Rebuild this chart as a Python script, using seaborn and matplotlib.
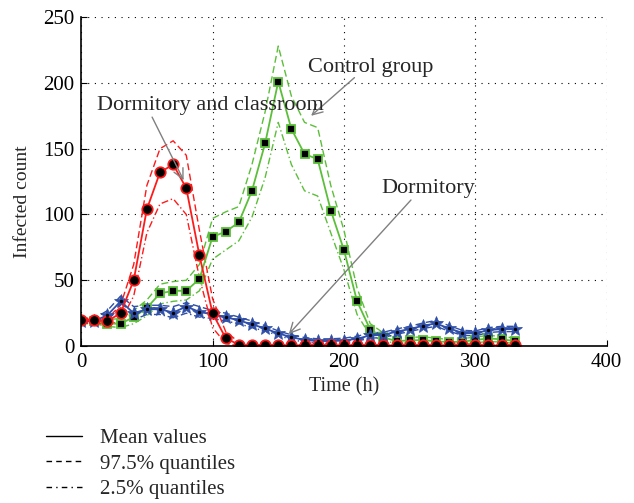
import numpy as np
import pandas as pd
import seaborn as sns
import matplotlib
matplotlib.use("Agg")
import matplotlib.pyplot as plt
from matplotlib.lines import Line2D

# ---------------- data ----------------
time_h = [0, 10, 20, 30, 40, 50, 60, 70, 80, 90, 100, 110, 120, 130, 140, 150, 160,
          170, 180, 190, 200, 210, 220, 230, 240, 250, 260, 270, 280, 290, 300, 310, 320, 330]

red_mean = [20, 20, 19, 25, 50, 104, 132, 138, 120, 69, 25, 6, 1, 0.5, 0.5, 0.5, 0.5,
            0.5, 0.5, 0.5, 0.5, 0.5, 0.5, 0.5, 0.5, 0.5, 0.5, 0.5, 0.5, 0.5, 0.5, 0.5, 0.5, 0.5]
red_hi = [21, 21, 21, 31, 62, 122, 150, 156, 145, 88, 36, 11, 3, 1, 1, 1, 1,
          1, 1, 1, 1, 1, 1, 1, 1, 1, 1, 1, 1, 1, 1, 1, 1, 1]
red_lo = [18, 18, 16, 19, 38, 86, 108, 112, 100, 52, 14, 2, 0, 0, 0, 0, 0,
          0, 0, 0, 0, 0, 0, 0, 0, 0, 0, 0, 0, 0, 0, 0, 0, 0]

green_mean = [19, 19, 17, 17, 22, 29, 40, 42, 42, 51, 83, 87, 94, 118, 154, 201, 165,
              146, 142, 103, 73, 34, 12.5, 6.6, 3.8, 4.3, 4.6, 3.6, 3.0, 3.3, 4.6, 5.8, 5.1, 3.8]
green_hi = [21, 21, 20, 21, 27, 35, 47, 49, 50, 62, 97, 102, 106, 138, 178, 228, 190,
            170, 166, 122, 88, 44, 17, 10, 6, 6.5, 7, 6, 5, 5.5, 7, 8, 7.5, 6]
green_lo = [17, 17, 15, 14, 17, 23, 32, 34, 35, 42, 66, 73, 80, 98, 128, 170, 138,
            118, 114, 86, 58, 24, 8, 4, 2, 2.5, 2.5, 2, 1.5, 1.5, 2.5, 3.5, 3, 2]

blue_mean = [19, 19, 23.5, 34, 25, 28, 28, 25.5, 30, 26, 24, 22, 19.5, 16.5, 13.4, 9.6, 6.8,
             4.6, 3.8, 3.8, 4.2, 5.6, 8.1, 8.5, 11, 12.9, 15.4, 17.2, 13.4, 10.1, 9.6, 12.2, 12.9, 12.9]
blue_hi = [21, 21, 27, 38, 30, 31, 31, 30, 33, 30, 27, 25, 22, 19, 15.5, 11.5, 8.5,
           6.5, 5.5, 5.5, 6, 7.5, 10, 10.5, 13, 15, 17.5, 19.5, 15.5, 12, 11.5, 14, 15, 15]
blue_lo = [17.5, 17.5, 20, 29, 20, 24, 24, 21.5, 25, 22, 21, 19, 17, 14, 11.5, 8, 5,
           3, 2.2, 2, 2.5, 3.8, 6, 6.5, 9, 11, 13.3, 15, 11.3, 8.2, 7.8, 10.3, 11, 11]

series_names = ["Dormitory and classroom", "Control group", "Dormitory"]
legend_labels = ["Mean values", "97.5% quantiles", "2.5% quantiles"]

# ---------------- style ----------------
sns.set_theme(style="white")
plt.rcParams['font.family'] = ['Liberation Serif', 'DejaVu Serif']

RED = "#ff1a1a"
GREEN = "#5cbf3a"
BLUE = "#2f4fa8"

fig = plt.figure(figsize=(6.34, 5.03), dpi=100)
ax = fig.add_axes([0.128, 0.312, 0.829, 0.654])

df = pd.DataFrame({"t": time_h,
                   "red_mean": red_mean, "red_hi": red_hi, "red_lo": red_lo,
                   "green_mean": green_mean, "green_hi": green_hi, "green_lo": green_lo,
                   "blue_mean": blue_mean, "blue_hi": blue_hi, "blue_lo": blue_lo})

dash_hi = (5, 2.5)
dash_lo = (5, 2, 1, 2)

# quantile lines
for key, col in [("green", GREEN), ("blue", BLUE), ("red", RED)]:
    sns.lineplot(data=df, x="t", y=f"{key}_hi", ax=ax, color=col, lw=1.0,
                 dashes=False, linestyle=(0, dash_hi))
    sns.lineplot(data=df, x="t", y=f"{key}_lo", ax=ax, color=col, lw=1.0,
                 dashes=False, linestyle=(0, dash_lo))

# mean lines with markers
sns.lineplot(data=df, x="t", y="green_mean", ax=ax, color=GREEN, lw=1.3,
             marker="s", markersize=6, markerfacecolor="black",
             markeredgecolor=GREEN, markeredgewidth=1.3)
sns.lineplot(data=df, x="t", y="blue_mean", ax=ax, color=BLUE, lw=1.3,
             marker="*", markersize=10, markerfacecolor=BLUE,
             markeredgecolor=BLUE, markeredgewidth=0.5)
ax.scatter(df["t"], df["blue_mean"], s=2, color="black", zorder=5)
sns.lineplot(data=df, x="t", y="red_mean", ax=ax, color=RED, lw=1.3,
             marker="o", markersize=7.5, markerfacecolor="black",
             markeredgecolor=RED, markeredgewidth=1.3)

# axes
ax.set_xlim(0, 400)
ax.set_ylim(0, 250)
ax.set_xticks([0, 100, 200, 300, 400])
ax.set_yticks([0, 50, 100, 150, 200, 250])
ax.set_xlabel("Time (h)", fontsize=14.5, labelpad=4)
ax.set_ylabel("Infected count", fontsize=14)
ax.yaxis.set_label_coords(-0.095, 0.44)
ax.tick_params(axis="both", direction="in", length=4, width=0.8, colors="black",
               labelsize=15, pad=5, bottom=True, left=True)
ax.grid(True, color="black", linestyle=(0, (1, 5)), linewidth=0.8)
for s in ["top", "right"]:
    ax.spines[s].set_visible(False)
for s in ["left", "bottom"]:
    ax.spines[s].set_color("black")
    ax.spines[s].set_linewidth(1.2)
ax.set_facecolor("white")

# annotations
arrow = dict(arrowstyle="->", color="#808080", lw=1.0, mutation_scale=18,
             shrinkA=0, shrinkB=0)
ax.text(220, 212, series_names[1], fontsize=16, ha="center", va="center")
ax.annotate("", xy=(175, 175), xytext=(208, 204), arrowprops=arrow)
ax.text(98, 183, series_names[0], fontsize=16, ha="center", va="center")
ax.annotate("", xy=(78, 126), xytext=(54, 174), arrowprops=arrow)
ax.text(264, 120, series_names[2], fontsize=16, ha="center", va="center")
ax.annotate("", xy=(158, 9), xytext=(251, 111), arrowprops=arrow)

# legend
handles = [Line2D([], [], color="black", lw=1.0, linestyle="-"),
           Line2D([], [], color="black", lw=1.0, linestyle=(0, (4, 3))),
           Line2D([], [], color="black", lw=1.0, linestyle=(0, (4, 3, 1, 3)))]
fig.legend(handles, legend_labels, loc="upper left", bbox_to_anchor=(0.072, 0.148),
           frameon=False, fontsize=15, handlelength=1.75, handletextpad=0.85,
           labelspacing=0.28, borderaxespad=0, borderpad=0)

fig.savefig("out.png", dpi=100, facecolor="white")
